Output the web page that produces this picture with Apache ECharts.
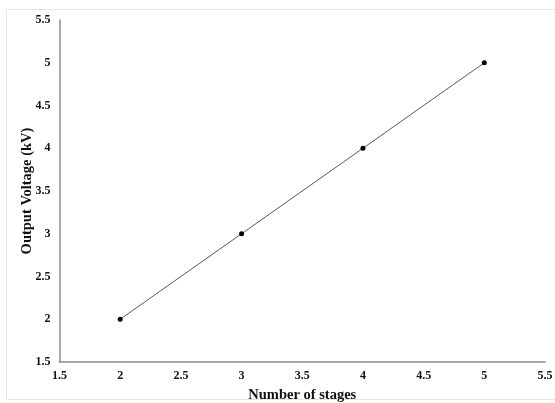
<!DOCTYPE html>
<html><head><meta charset="utf-8">
<script src="https://cdn.jsdelivr.net/npm/echarts@6/dist/echarts.min.js"></script>
<style>html,body{margin:0;padding:0;background:#fff}#c{width:555px;height:403px}</style>
</head><body><div id="c"></div>
<script>
const stages = [2, 3, 4, 5];
const voltage = [2, 3, 4, 5];
const xTitle = 'Number of stages';
const yTitle = 'Output Voltage (kV)';
const chart = echarts.init(document.getElementById('c'));
const font = 'Liberation Serif, Times New Roman, serif';
chart.setOption({
  animation: false,
  backgroundColor: '#fff',
  graphic: [{type:'rect', shape:{x:6.5,y:9.5,width:560,height:390}, style:{fill:'none', stroke:'#e6e6e6', lineWidth:1}}],
  grid: {left: 59.5, top: 20, right: 10, bottom: 41, containLabel: false, outerBoundsMode: 'none'},
  xAxis: {
    type: 'value', min: 1.5, max: 5.5, interval: 0.5,
    name: xTitle, nameLocation: 'middle', nameGap: 26, nameMoveOverlap: false,
    nameTextStyle: {fontFamily: font, fontWeight: 'bold', fontSize: 14.5, color: '#111'},
    axisLine: {lineStyle: {color: '#8c8c8c', width: 1.5}},
    axisTick: {show: false}, splitLine: {show: false},
    axisLabel: {fontFamily: font, fontWeight: 'bold', fontSize: 12, color: '#111', margin: 8}
  },
  yAxis: {
    type: 'value', min: 1.5, max: 5.5, interval: 0.5,
    name: yTitle, nameLocation: 'middle', nameGap: 25, nameMoveOverlap: false,
    nameTextStyle: {fontFamily: font, fontWeight: 'bold', fontSize: 14.5, color: '#111'},
    axisLine: {show: true, lineStyle: {color: '#8c8c8c', width: 1.5}},
    axisTick: {show: false}, splitLine: {show: false},
    axisLabel: {fontFamily: font, fontWeight: 'bold', fontSize: 12, color: '#111', margin: 9}
  },
  series: [{
    type: 'line', data: stages.map((s, i) => [s, voltage[i]]),
    symbol: 'circle', symbolSize: 5,
    lineStyle: {color: '#595959', width: 1},
    itemStyle: {color: '#000'}
  }]
});
</script></body></html>
